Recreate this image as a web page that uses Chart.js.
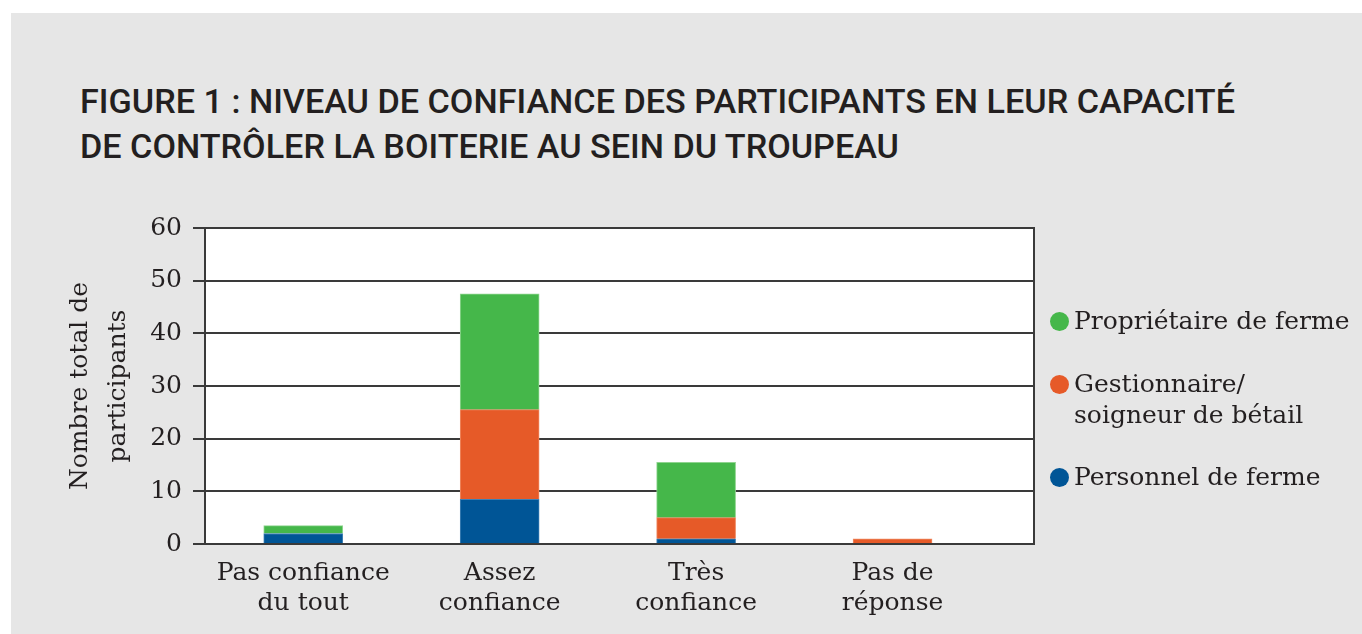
<!DOCTYPE html>
<html lang="fr">
<head>
<meta charset="UTF-8">
<title>Figure 1</title>
<script src="https://cdn.jsdelivr.net/npm/chart.js@4.4.1/dist/chart.umd.min.js"></script>
<style>
  * { box-sizing: border-box; margin: 0; padding: 0; }
  body { width: 1362px; height: 634px; background: #fff; overflow: hidden; position: relative; }
  .panel { position: absolute; left: 11px; top: 13px; right: 0; bottom: 0; background: #e6e6e6; }
  h1 {
    position: absolute; left: 80px; top: 79px; transform-origin: left top;
    font-family: Roboto, sans-serif; font-weight: 500; font-size: 34px; line-height: 45px;
    color: #231f20; white-space: nowrap; letter-spacing: 0;
  }
  canvas { position: absolute; left: 0; top: 0; }
  .legend { position: absolute; left: 1050px; top: 300px; font-family: 'DejaVu Serif', serif; font-size: 25px; color: #231f20; }
  .legend .item { position: absolute; left: 0; white-space: nowrap; padding-left: 24px; line-height: 31px; }
  .legend .dot { position: absolute; left: 0; width: 19px; height: 19px; border-radius: 50%; }
</style>
</head>
<body>
<div class="panel"></div>
<h1 id="title">FIGURE 1 : NIVEAU DE CONFIANCE DES PARTICIPANTS EN LEUR CAPACITÉ<br>DE CONTRÔLER LA BOITERIE AU SEIN DU TROUPEAU</h1>
<canvas id="chart" width="1362" height="634"></canvas>
<div class="legend" id="legend"></div>
<script>
  const categories = [['Pas confiance', 'du tout'], ['Assez', 'confiance'], ['Très', 'confiance'], ['Pas de', 'réponse']];
  const personnel = [2, 8.5, 1, 0];
  const gestionnaire = [0, 17, 4, 1];
  const proprietaire = [1.5, 22, 10.5, 0];
  const yTicks = [0, 10, 20, 30, 40, 50, 60];

  const seriesNames = ['Personnel de ferme', ['Gestionnaire/', 'soigneur de bétail'], 'Propriétaire de ferme'];
  const seriesColors = ['#005596', '#e65a28', '#45b74a'];
  const seriesEdges = ['#3f7fb3', '#ef8a63', '#8fd48f'];

  // Title width matched to the original line length
  (function () {
    const t = document.getElementById('title');
    const w = t.getBoundingClientRect().width;
    t.style.transform = 'scaleX(' + (1155 / w) + ')';
  })();

  const serif = "'DejaVu Serif', serif";
  const ink = '#231f20';
  const gridColor = '#3a3a3a';

  function points(vals) { return vals.map((v, i) => ({ x: i, y: v })); }

  const plotBg = {
    id: 'plotBg',
    beforeDraw(chart) {
      const a = chart.chartArea, ctx = chart.ctx;
      ctx.save();
      ctx.fillStyle = '#fff';
      ctx.fillRect(a.left, a.top, a.right - a.left, a.bottom - a.top);
      ctx.restore();
    },
    afterDraw(chart) {
      const a = chart.chartArea, ctx = chart.ctx;
      ctx.save();
      ctx.strokeStyle = gridColor;
      ctx.lineWidth = 2;
      ctx.beginPath();
      ctx.moveTo(a.right, a.top - 1);
      ctx.lineTo(a.right, a.bottom + 1);
      ctx.stroke();
      ctx.restore();
    }
  };

  const data = [personnel, gestionnaire, proprietaire];
  new Chart(document.getElementById('chart'), {
    type: 'bar',
    data: {
      datasets: data.map((vals, k) => ({
        label: Array.isArray(seriesNames[k]) ? seriesNames[k].join(' ') : seriesNames[k],
        data: points(vals),
        backgroundColor: seriesColors[k],
        borderColor: seriesEdges[k],
        borderWidth: 1,
        borderSkipped: 'bottom',
        barThickness: 79,
      })),
    },
    options: {
      responsive: false,
      animation: false,
      layout: { padding: { left: 0, top: 228, right: 328, bottom: 0 } },
      plugins: { legend: { display: false }, tooltip: { enabled: false } },
      scales: {
        x: {
          type: 'linear', stacked: true, min: -0.5, max: 3.72, offset: false,
          afterBuildTicks(s) { s.ticks = categories.map((c, i) => ({ value: i })); },
          afterFit(s) { s.height = 90; },
          grid: { display: false },
          border: { display: false },
          ticks: {
            autoSkip: false, maxRotation: 0, padding: 6,
            color: ink, font: { family: serif, size: 25, lineHeight: 1.2 },
            callback: (v) => categories[v],
          },
        },
        y: {
          stacked: true, min: 0, max: 60,
          afterBuildTicks(s) { s.ticks = yTicks.map(v => ({ value: v })); },
          afterFit(s) { s.width = 205; },
          grid: { color: gridColor, lineWidth: 2, tickLength: 12, tickColor: gridColor },
          border: { display: true, color: gridColor, width: 2 },
          ticks: { color: ink, padding: 11, font: { family: serif, size: 25 } },
          title: {
            display: true, text: ['Nombre total de', 'participants'],
            color: ink, font: { family: serif, size: 25, lineHeight: 1.52 }, padding: { top: 61, bottom: 0 },
          },
        },
      },
    },
    plugins: [plotBg],
  });

  // Legend, top to bottom as in the original
  const legend = document.getElementById('legend');
  const rows = [{ k: 2, top: 5 }, { k: 1, top: 68 }, { k: 0, top: 161 }];
  rows.forEach(r => {
    const item = document.createElement('div');
    item.className = 'item';
    item.style.top = r.top + 'px';
    const name = seriesNames[r.k];
    item.innerHTML = '<span class="dot" style="background:' + seriesColors[r.k] + ';top:7px"></span>' +
      (Array.isArray(name) ? name.join('<br>') : name);
    legend.appendChild(item);
  });
</script>
</body>
</html>
